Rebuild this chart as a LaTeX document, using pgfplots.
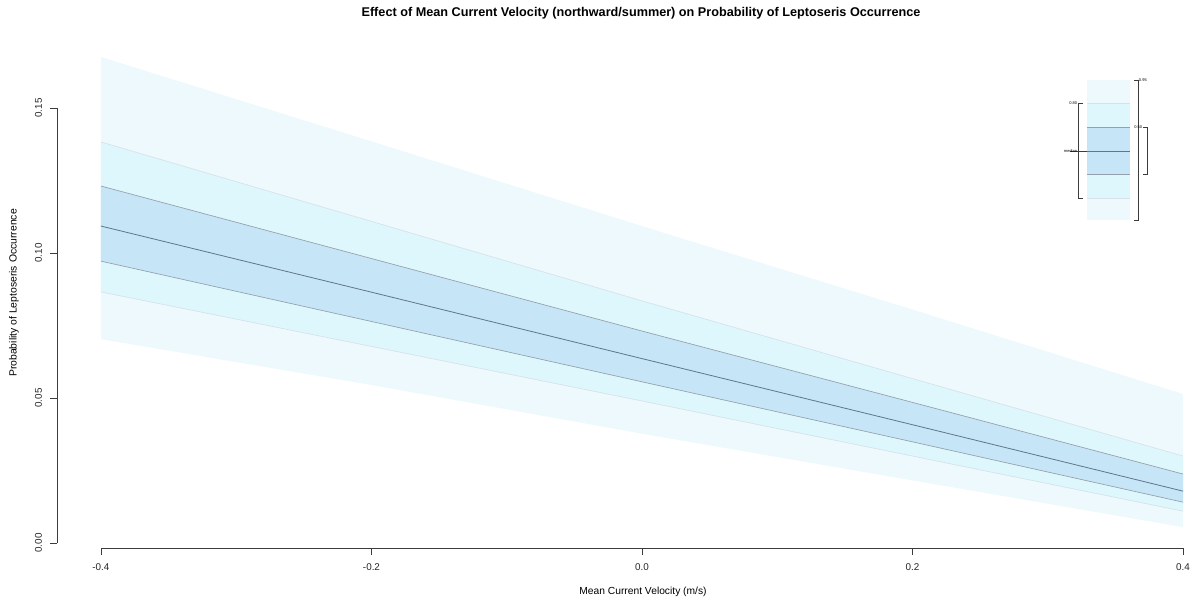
\documentclass[border=0pt]{standalone}
\usepackage{fontspec}
\setmainfont{Liberation Sans}
\usepackage{pgfplots}
\usepackage{pgfplotstable}
\pgfplotsset{compat=1.18}
\usepgfplotslibrary{fillbetween}
\definecolor{outerC}{RGB}{237,249,252}
\definecolor{eightyC}{RGB}{221,247,253}
\definecolor{fiftyC}{RGB}{198,229,247}
\definecolor{medC}{RGB}{95,118,140}
\definecolor{fiftyE}{RGB}{150,160,172}
\definecolor{eightyE}{RGB}{214,226,232}
\definecolor{axC}{RGB}{60,60,60}
\pgfplotstableread{
x ohi ehi fhi med flo elo olo
-0.4 0.1676 0.1383 0.1231 0.1093 0.0972 0.0866 0.0703
-0.2 0.1385 0.1109 0.0981 0.0865 0.0764 0.0678 0.0545
0.0 0.1093 0.0835 0.0731 0.0636 0.0556 0.0490 0.0377
0.2 0.0805 0.0567 0.0485 0.0408 0.0349 0.0300 0.0216
0.4 0.0514 0.0300 0.0238 0.0179 0.0141 0.0110 0.0055
}\bands
\begin{document}
\begin{tikzpicture}
\begin{axis}[
  at={(42.75pt,44.25pt)}, anchor=south west,
  scale only axis, width=877.5pt, height=373.5pt,
  xmin=-0.4325, xmax=0.4325, ymin=-0.0017, ymax=0.17,
  axis x line*=bottom, axis y line*=left,
  axis line style={draw=none},
  clip=false,
  xtick={-0.4,-0.2,0,0.2,0.4},
  xticklabels={-0.4,-0.2,0.0,0.2,0.4},
  ytick={0,0.05,0.1,0.15},
  yticklabels={0.00,0.05,0.10,0.15},
  tick align=outside,
  major tick length=5.25pt,
  tick style={axC, line width=0.5pt},
  ticklabel style={font=\fontsize{7.4}{8}\selectfont, text=black!85},
  yticklabel style={rotate=90, anchor=south},
  xticklabel shift=2.8pt,
  yticklabel shift=2.5pt,
]
\addplot[draw=none, name path=ohi, forget plot] table[x=x,y=ohi]{\bands};
\addplot[draw=none, name path=olo, forget plot] table[x=x,y=olo]{\bands};
\addplot[draw=none, name path=ehi, forget plot] table[x=x,y=ehi]{\bands};
\addplot[draw=none, name path=elo, forget plot] table[x=x,y=elo]{\bands};
\addplot[draw=none, name path=fhi, forget plot] table[x=x,y=fhi]{\bands};
\addplot[draw=none, name path=flo, forget plot] table[x=x,y=flo]{\bands};
\addplot[outerC, draw=none] fill between[of=ohi and olo];
\addplot[eightyC, draw=none] fill between[of=ehi and elo];
\addplot[fiftyC, draw=none] fill between[of=fhi and flo];
\addplot[eightyE, line width=0.5pt] table[x=x,y=ehi]{\bands};
\addplot[eightyE, line width=0.5pt] table[x=x,y=elo]{\bands};
\addplot[fiftyE, line width=0.5pt] table[x=x,y=fhi]{\bands};
\addplot[fiftyE, line width=0.5pt] table[x=x,y=flo]{\bands};
\addplot[medC, line width=0.6pt] table[x=x,y=med]{\bands};
\draw[axC, line width=0.5pt] (axis cs:-0.4,-0.0017) -- (axis cs:0.4,-0.0017);
\draw[axC, line width=0.5pt] (axis cs:-0.4325,0) -- (axis cs:-0.4325,0.15);
\end{axis}
\begin{scope}[x=0.75pt, y=-0.75pt, yshift=455.25pt]
% title and labels
\node[font=\fontsize{9.5}{11}\selectfont\bfseries] at (641,13) {Effect of Mean Current Velocity (northward/summer) on Probability of Leptoseris Occurrence};
\node[font=\fontsize{7.7}{9}\selectfont] at (643,592) {Mean Current Velocity (m/s)};
\node[font=\fontsize{7.8}{9}\selectfont, rotate=90] at (14,293) {Probability of Leptoseris Occurrence};
% legend inset
\fill[outerC] (1087,80) rectangle (1130,220);
\fill[eightyC] (1087,103) rectangle (1130,198);
\fill[fiftyC] (1087,127) rectangle (1130,174);
\draw[eightyE, line width=0.5pt] (1087,103) -- (1130,103) (1087,198) -- (1130,198);
\draw[fiftyE, line width=0.5pt] (1087,127) -- (1130,127) (1087,174) -- (1130,174);
\draw[medC, line width=0.6pt] (1087,151) -- (1130,151);
\draw[axC, line width=0.5pt] (1083,103) -- (1078,103) -- (1078,198) -- (1083,198);
\draw[axC, line width=0.4pt] (1070,151) -- (1087,151);
\draw[axC, line width=0.5pt] (1134,80) -- (1138,80) -- (1138,220) -- (1134,220);
\draw[axC, line width=0.5pt] (1143,127) -- (1147,127) -- (1147,174) -- (1143,174);
\node[font=\fontsize{3}{3.5}\selectfont, anchor=east, inner sep=0.5pt] at (1078,103) {0.80};
\node[font=\fontsize{3}{3.5}\selectfont, anchor=east, inner sep=0.5pt] at (1078,151) {median};
\node[font=\fontsize{3}{3.5}\selectfont, anchor=west, inner sep=0.5pt] at (1138,80) {0.95};
\node[font=\fontsize{3}{3.5}\selectfont, anchor=east, inner sep=0.5pt] at (1143,127) {0.50};
\end{scope}
\pgfresetboundingbox
\path[use as bounding box] (0,0) rectangle (898.5pt,455.25pt);
\end{tikzpicture}
\end{document}
